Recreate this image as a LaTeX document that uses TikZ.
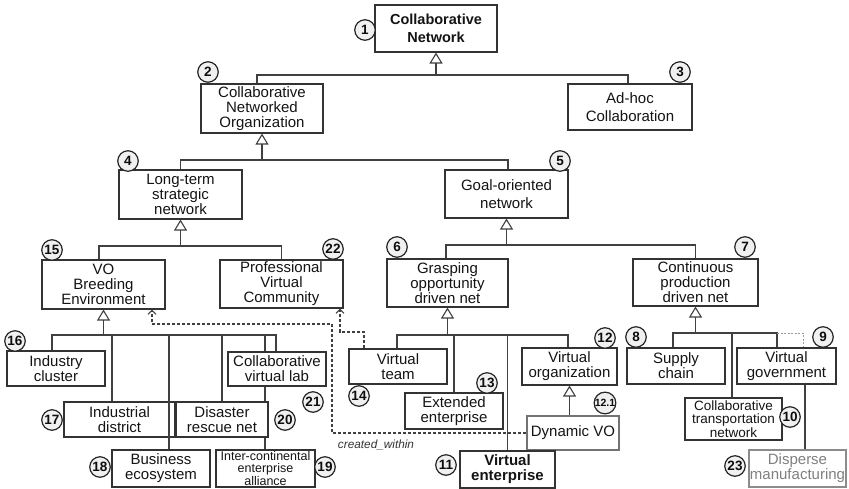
\documentclass[tikz,border=0pt]{standalone}
\usepackage{fontspec}
\setmainfont{Liberation Sans}
\usetikzlibrary{arrows.meta}
\begin{document}
\begin{tikzpicture}[x=1pt,y=-1pt,
  box/.style={draw=black!80, line width=1.1pt, inner sep=0pt, align=center, text=black!92, font=\fontsize{15}{15}\selectfont},
  sz/.style 2 args={minimum width=#1pt, minimum height=#2pt},
  num/.style={circle, draw=black!85, line width=1.2pt, fill=black!6, inner sep=0pt, minimum size=20.5pt, text=black!95, font=\bfseries\fontsize{13.5}{13.5}\selectfont},
  conn/.style={draw=black!75, line width=1.1pt},
  gen/.style={conn, -{Triangle[open,length=11pt,width=13pt]}},
  dep/.style={conn, dash pattern=on 3pt off 2pt, -{Straight Barb[length=4pt,width=8pt]}},
  faint/.style={draw=black!40, line width=0.7pt, dash pattern=on 2pt off 1.5pt},
  lbl/.style={font=\itshape\fontsize{11.8}{11.8}\selectfont, text=black!80, inner sep=0pt}
]
\fill[white] (0,0) rectangle (849,488);
\useasboundingbox (0,0) rectangle (849,488);

% boxes
\node[box, sz={122}{47}, font=\bfseries\fontsize{14.5}{17.5}\selectfont] (n1) at (436,28.5) {Collaborative\\Network};
\node[box, sz={122}{49}] (n2) at (262,108.5) {Collaborative\\Networked\\Organization};
\node[box, sz={124}{46}, font=\fontsize{15}{18}\selectfont] (n3) at (630,107) {Ad-hoc\\Collaboration};
\node[box, sz={123}{49}] (n4) at (180.5,194.5) {Long-term\\strategic\\network};
\node[box, sz={123}{48}, font=\fontsize{15}{18.5}\selectfont] (n5) at (506.5,194) {Goal-oriented\\network};
\node[box, sz={121}{48}] (n6) at (447.5,283) {Grasping\\opportunity\\driven net};
\node[box, sz={125}{47}] (n7) at (695.5,282.5) {Continuous\\production\\driven net};
\node[box, sz={123}{49}] (n15) at (103.5,284.5) {VO\\Breeding\\Environment};
\node[box, sz={123}{48}] (n22) at (281.5,284) {Professional\\Virtual\\Community};
\node[box, sz={98}{35}] (n16) at (56,368.5) {Industry\\cluster};
\node[box, sz={111}{35}] (n17) at (119.5,419.5) {Industrial\\district};
\node[box, sz={98}{37}] (n18) at (161,468.5) {Business\\ecosystem};
\node[box, sz={99}{37}, font=\fontsize{12.5}{11.5}\selectfont] (n19) at (265.5,468.5) {Inter-continental\\enterprise\\alliance};
\node[box, sz={92}{35}] (n20) at (222,419.5) {Disaster\\rescue net};
\node[box, sz={98}{34}] (n21) at (277,369) {Collaborative\\virtual lab};
\node[box, sz={98}{35}] (n14) at (398,366.5) {Virtual\\team};
\node[box, sz={98}{36}] (n13) at (454,411) {Extended\\enterprise};
\node[box, sz={95}{37}] (n12) at (569.5,366.5) {Virtual\\organization};
\node[box, sz={92}{34}, draw=black!55] (n121) at (573,433) {Dynamic VO};
\node[box, sz={95}{37}, font=\bfseries\fontsize{15}{15}\selectfont] (n11) at (507.5,469.5) {Virtual\\enterprise};
\node[box, sz={98}{36}] (n8) at (676,366) {Supply\\chain};
\node[box, sz={99}{36}] (n9) at (786.5,366) {Virtual\\government};
\node[box, sz={97}{42}, font=\fontsize{13.5}{13.2}\selectfont] (n10) at (733.5,419) {Collaborative\\transportation\\network};
\node[box, sz={97}{37}, draw=black!45, text=black!50] (n23) at (797.5,468.5) {Disperse\\manufacturing};

% generalisation connectors
\coordinate (b1) at (436,75);
\draw[gen] (b1) -- (n1.south);
\draw[conn] ([xshift=-5pt]n2.north) |- (b1) -| ([xshift=-2pt]n3.north);

\coordinate (b2) at (262,160);
\draw[gen] (b2) -- (n2.south);
\draw[conn] (n4.north) |- (b2) -| ([xshift=1.5pt]n5.north);

\coordinate (b4) at (180.5,246);
\draw[gen] (b4) -- (n4.south);
\draw[conn] ([xshift=-4.5pt]n15.north) |- (b4) -| (n22.north);

\coordinate (b5) at (506.5,245);
\draw[gen] (b5) -- (n5.south);
\draw[conn] ([xshift=-1.5pt]n6.north) |- (b5) -| (n7.north);

\coordinate (b15) at (103.5,335);
\draw[gen] (b15) -- (n15.south);
\draw[conn] ([xshift=-4pt]n16.north) |- (b15) -| ([xshift=-1pt]n21.north);
\draw[conn] ([xshift=-7.5pt]n17.north) -- ([xshift=-7.5pt]n17.north |- b15);
\draw[conn] ([xshift=8pt]n18.north) -- ([xshift=8pt]n18.north |- b15);
\draw[conn] (n20.north) -- (n20.north |- b15);
\draw[conn] ([xshift=-12pt]n21.north) -- ([xshift=-12pt]n21.north |- b15);
\draw[conn] ([xshift=-12pt]n21.south) -- ([xshift=-12pt]n21.south |- n20.north);
\draw[conn] ([xshift=-0.5pt]n19.north) -- ([xshift=-0.5pt]n19.north |- n20.south);

\coordinate (b6) at (447.5,335);
\draw[gen] (b6) -- (n6.south);
\draw[conn] ([xshift=-1pt]n14.north) |- (b6) -| ([xshift=-1.5pt]n12.north);
\draw[conn] (n13.north) -- (n13.north |- b6);
\draw[conn] (n11.north) -- (n11.north |- b6);
\draw[gen] (n121.north -| n12.south) -- (n12.south);

\coordinate (b7) at (695.5,333);
\draw[gen] (b7) -- (n7.south);
\draw[conn] ([xshift=-3pt]n8.north) |- (b7) -| ([xshift=-9.5pt]n9.north);
\draw[conn] ([xshift=-1.5pt]n10.north) -- ([xshift=-1.5pt]n10.north |- b7);
\draw[conn] ([xshift=18.5pt]n9.south) -- ([xshift=18.5pt]n9.south |- n23.north);
\draw[faint] ([xshift=-9.5pt]n9.north |- b7) -| ([xshift=16.5pt]n9.north);

% dependency (dashed) connectors
\coordinate (d1) at (332,324);
\draw[dep] (n121.west) -| (d1) -| ([xshift=48.5pt]n15.south);
\coordinate (d2) at (340,332);
\draw[dep] ([xshift=-34pt]n14.north) |- (d2) -- ([xshift=58.5pt]n22.south);
\node[lbl] (lab) at (376,445) {created\_within};

% number markers
\node[num] (c1) at (365,30) {1};
\node[num] (c2) at (208,72) {2};
\node[num] (c3) at (680,72) {3};
\node[num] (c4) at (128,161) {4};
\node[num] (c5) at (560,161) {5};
\node[num] (c6) at (397,247) {6};
\node[num] (c7) at (745,247) {7};
\node[num] (c15) at (52,250) {15};
\node[num] (c22) at (333,249) {22};
\node[num] (c16) at (15,341) {16};
\node[num] (c17) at (52,420) {17};
\node[num] (c18) at (100,467) {18};
\node[num] (c19) at (325,467) {19};
\node[num] (c20) at (285,420) {20};
\node[num] (c21) at (313,402) {21};
\node[num] (c14) at (359,396) {14};
\node[num] (c13) at (487,383) {13};
\node[num] (c12) at (605,338) {12};
\node[num, font=\bfseries\fontsize{10.5}{10.5}\selectfont] (c121) at (605,403) {12.1};
\node[num] (c11) at (446,465) {11};
\node[num] (c8) at (636,337) {8};
\node[num] (c9) at (823,337) {9};
\node[num] (c10) at (790,417) {10};
\node[num] (c23) at (735,466) {23};
\end{tikzpicture}
\end{document}
